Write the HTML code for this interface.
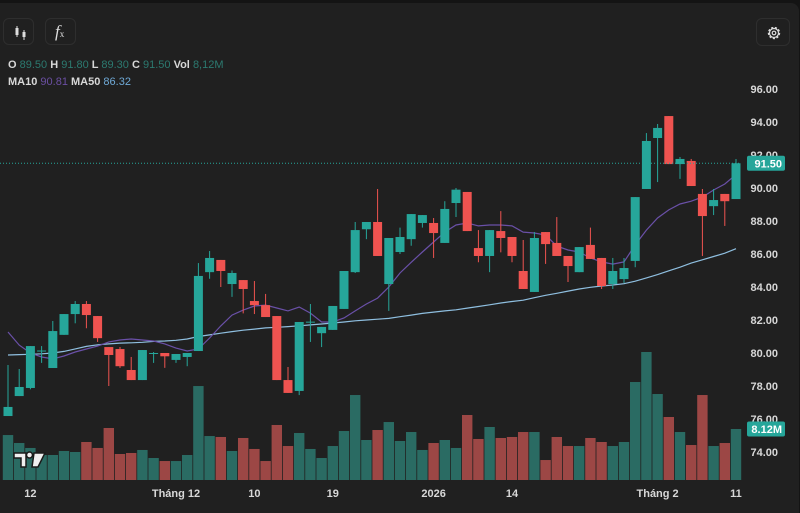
<!DOCTYPE html>
<html><head><meta charset="utf-8">
<style>
html,body{margin:0;padding:0;background:#141414;}
#wrap{position:relative;width:800px;height:513px;overflow:hidden;background:#141414;font-family:"Liberation Sans",sans-serif;}
#panel{position:absolute;left:0;top:3px;width:799px;height:510px;background:#202020;border-radius:0 8px 0 0;}
.btn{position:absolute;top:18px;width:31px;height:27px;border:1px solid #2e2e2e;border-radius:6px;box-sizing:border-box;}
.legend{position:absolute;left:8px;font-size:11px;font-weight:bold;color:#d8d8d8;white-space:nowrap;}
.g{color:#2c7a70;font-weight:normal}
svg{position:absolute;left:0;top:0;}
</style></head><body>
<div id="wrap">
<div id="panel"></div>
<div class="btn" style="left:3px">
 <svg width="31" height="27" viewBox="0 0 31 27"><line x1="13" y1="7" x2="13" y2="18" stroke="#ddd" stroke-width="1"/><rect x="11.5" y="9" width="3" height="7" fill="#ddd"/><line x1="20" y1="11" x2="20" y2="21" stroke="#ddd"/><rect x="18.5" y="13" width="3" height="5" fill="#ddd"/></svg>
</div>
<div class="btn" style="left:45px">
 <span style="position:absolute;left:9px;top:3px;color:#ddd;font-family:'Liberation Serif',serif;font-style:italic;font-size:17px">f<span style="font-size:9px;font-style:normal">x</span></span>
</div>
<div class="btn" style="left:756px;top:18px;width:34px;height:28px">
 <svg width="34" height="28" viewBox="0 0 34 28"><circle cx="17" cy="14" r="5.5" fill="none" stroke="#ddd" stroke-width="1.4" stroke-dasharray="2.2 1.6"/><circle cx="17" cy="14" r="4.5" fill="none" stroke="#ddd" stroke-width="1.2"/><circle cx="17" cy="14" r="1.8" fill="none" stroke="#ddd" stroke-width="1.2"/></svg>
</div>
<div class="legend" style="top:59px">O <span class="g">89.50</span> H <span class="g">91.80</span> L <span class="g">89.30</span> C <span class="g">91.50</span> Vol <span class="g">8,12M</span></div>
<div class="legend" style="top:76px">MA10 <span style="color:#6b4fa3;font-weight:normal">90.81</span> MA50 <span style="color:#6fa9d6;font-weight:normal">86.32</span></div>
<svg id="chart" width="800" height="513"></svg>
</div>
<script>
const opens=[76.18,77.39,77.88,80.1,79.09,81.1,82.36,82.97,82.24,80.36,80.24,78.97,78.36,80.0,80.0,79.58,79.76,80.12,84.9,85.64,84.18,84.42,83.15,82.9,82.24,78.36,77.7,81.85,81.2,81.4,82.67,84.9,87.5,87.94,84.18,86.12,86.9,87.88,87.88,86.67,89.09,89.76,86.36,85.88,87.39,87.03,84.97,83.7,87.33,86.67,85.88,84.9,86.55,85.76,84.18,84.48,85.58,89.94,93.03,94.36,91.45,91.64,89.64,88.9,89.64,89.33];
const highs=[79.27,79.03,80.42,80.42,81.94,82.36,83.15,83.15,82.24,80.36,80.36,79.76,80.18,80.06,80.0,79.94,80.0,85.45,86.18,85.64,85.0,84.42,84.36,83.58,82.24,79.15,81.88,82.97,81.58,82.85,84.97,87.94,87.94,89.94,86.97,87.6,88.42,88.36,88.18,89.2,90.0,89.76,87.45,87.45,88.6,87.03,86.85,87.33,87.33,88.24,85.88,86.42,87.6,85.76,85.76,85.76,89.45,93.33,93.88,94.36,91.88,91.76,89.94,89.94,89.64,91.76];
const lows=[76.18,77.39,77.8,79.4,79.09,81.1,81.8,81.5,80.67,78.0,79.1,78.36,78.36,79.4,79.1,79.4,79.2,80.12,84.5,84.0,83.4,82.4,82.36,82.18,78.36,77.58,77.45,80.67,80.36,81.4,82.67,84.85,86.9,85.88,82.55,86.0,86.5,87.6,85.76,86.67,88.24,87.39,85.5,84.9,86.1,85.5,83.88,83.7,85.4,85.88,84.3,84.9,85.7,83.88,83.88,84.24,85.2,89.94,90.36,91.45,90.55,90.12,85.88,88.36,87.7,89.33];
const closes=[76.73,77.94,80.42,80.15,81.33,82.36,82.97,82.3,80.9,79.88,79.2,78.36,80.18,80.0,79.8,79.94,80.0,84.67,85.76,84.97,84.85,83.88,82.9,82.18,78.36,77.58,81.88,81.9,81.58,82.85,84.97,87.45,87.94,85.88,86.97,87.03,88.42,88.36,87.27,88.73,89.9,87.39,85.88,87.45,86.97,85.88,83.88,86.97,86.6,85.88,85.27,86.42,85.7,84.06,84.97,85.15,89.45,92.85,93.64,91.45,91.76,90.12,88.3,89.27,89.2,91.5];
const volumes=[7.16,5.89,5.1,3.98,3.98,4.62,4.46,6.05,5.1,8.28,4.14,4.3,4.78,3.5,3.02,3.02,3.98,14.96,7.0,6.85,4.62,6.69,4.94,3.02,8.76,5.41,7.48,4.94,3.5,5.41,7.8,13.53,6.37,7.96,9.23,6.21,7.64,4.78,5.89,6.37,5.1,10.35,6.53,8.44,6.69,6.85,7.64,7.64,3.18,6.85,5.41,5.41,6.69,6.05,5.41,6.05,15.6,20.38,13.69,10.03,7.64,5.57,13.53,5.41,5.89,8.12];
const ma10=[81.27,80.48,80.0,79.76,79.64,79.82,80.06,80.24,80.42,80.67,80.79,80.85,80.79,80.73,80.55,80.3,80.12,80.24,80.91,81.64,82.3,82.6,82.85,82.9,82.73,82.55,82.79,82.42,81.88,81.88,82.12,82.55,82.97,83.33,84.0,84.85,85.5,86.12,86.73,87.33,87.76,87.88,87.7,87.76,87.76,87.7,87.33,87.27,87.15,86.48,86.24,86.12,85.76,85.52,85.39,85.52,86.55,87.45,88.18,88.67,89.03,89.2,89.45,89.88,90.24,90.81];
const ma50=[79.88,79.9,79.92,79.95,80.0,80.1,80.25,80.4,80.5,80.55,80.6,80.62,80.65,80.7,80.73,80.77,80.85,81.0,81.1,81.2,81.3,81.38,81.45,81.52,81.56,81.6,81.65,81.7,81.76,81.82,81.88,81.95,82.0,82.05,82.1,82.2,82.3,82.4,82.48,82.55,82.62,82.72,82.82,82.92,83.03,83.12,83.2,83.35,83.5,83.62,83.75,83.88,83.98,84.06,84.12,84.2,84.35,84.55,84.75,84.98,85.2,85.45,85.65,85.85,86.05,86.32];
const priceTicks=[96,94,92,90,88,86,84,82,80,78,76,74];
const timeLabels=["12","Tháng 12","10","19","2026","14","Tháng 2","11"];
const timeIdx=[2,15,22,29,38,45,58,65];
const lastPrice=91.5, lastVolLabel="8.12M";

const NS="http://www.w3.org/2000/svg";
const svg=document.getElementById('chart');
const xS=i=>8+i*11.2;
const yS=p=>89+(96-p)*16.5;
const vS=v=>480-v*(51/8.12);
function mk(t,a,p){const e=document.createElementNS(NS,t);for(const k in a)e.setAttribute(k,a[k]);(p||svg).appendChild(e);return e;}

volumes.forEach((v,i)=>{
  const up=closes[i]>=opens[i];
  const r=mk('rect',{x:xS(i)-5.2,y:vS(v),width:10.4,height:480-vS(v),fill:up?'#2a6b63':'#9c4745'});
  
  
});
function line(arr,color,name){
  const d=arr.map((v,i)=>(i?'L':'M')+xS(i).toFixed(1)+' '+yS(v).toFixed(1)).join(' ');
  const p=mk('path',{d:d,fill:'none',stroke:color,'stroke-width':1.2});
  
  
}
line(ma50,'#8fbfe0','ma50-line');
line(ma10,'#6a50a8','ma10-line');
opens.forEach((o,i)=>{
  const c=closes[i],up=c>=o,col=up?'#26a69a':'#ef5350';
  const g=mk('g',{});
  
  
  mk('line',{x1:xS(i),x2:xS(i),y1:yS(highs[i]),y2:yS(lows[i]),stroke:col,'stroke-width':1},g);
  const top=yS(Math.max(o,c)),bot=yS(Math.min(o,c));
  mk('rect',{x:xS(i)-4.5,y:top,width:9,height:Math.max(1,bot-top),fill:col},g);
});
const lp=mk('line',{x1:0,x2:740,y1:yS(lastPrice),y2:yS(lastPrice),stroke:'#26a69a','stroke-width':1,'stroke-dasharray':'1 2'});


priceTicks.forEach(p=>{
  const t=mk('text',{x:778,y:yS(p)+4,'text-anchor':'end','font-size':11,'font-weight':'bold',fill:'#d8d8d8','font-family':'Liberation Sans, sans-serif'});
  t.textContent=p.toFixed(2);
  
  
});
function badge(y,txt,name){
  const g=mk('g',{});
  
  
  mk('rect',{x:747,y:y-7.5,width:38,height:15,rx:2,fill:'#26a69a'},g);
  const t=mk('text',{x:782,y:y+4,'text-anchor':'end','font-size':11,'font-weight':'bold',fill:'#fff','font-family':'Liberation Sans, sans-serif'},g);
  t.textContent=txt;
}
badge(yS(lastPrice),lastPrice.toFixed(2),'last-price-label');
badge(vS(volumes[volumes.length-1]),lastVolLabel,'last-volume-label');
timeLabels.forEach((l,k)=>{
  const t=mk('text',{x:xS(timeIdx[k]),y:497,'text-anchor':'middle','font-size':11,'font-weight':'bold',fill:'#d8d8d8','font-family':'Liberation Sans, sans-serif'});
  t.textContent=l;
  
  
});
const lg=mk('g',{});


mk('path',{d:'M14 453 h12 v14 h-5 v-9 h-7 z M26.5 455 a3 3 0 1 1 6 0 a3 3 0 1 1 -6 0 z M34 453 h11 l-7 14 h-6 z',fill:'#f0f0f0',stroke:'#1a1a1a','stroke-width':1.5},lg);
</script>
</body></html>
